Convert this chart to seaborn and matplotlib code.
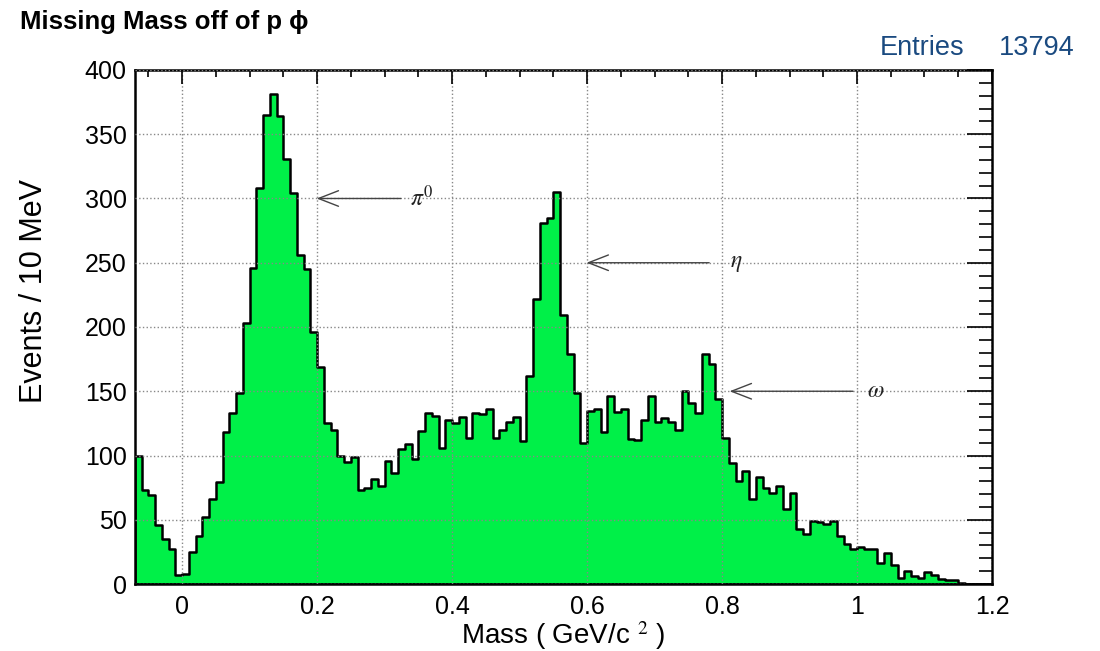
import numpy as np
import pandas as pd
import matplotlib
matplotlib.use('Agg')
import matplotlib.pyplot as plt
import seaborn as sns
from matplotlib.ticker import MultipleLocator, FuncFormatter

# 10 MeV bins from -0.07 to 1.20 GeV/c^2
bin_lo = -0.07
bin_hi = 1.20
n_bins = 127
counts = [
    100, 73, 69, 46, 35, 27, 7,                             # -0.07 .. -0.01
    8, 25, 37, 52, 66, 79, 118, 133, 149, 203,              # 0.00 .. 0.09
    246, 308, 365, 381, 364, 331, 304, 256, 245, 196,       # 0.10 .. 0.19
    169, 125, 120, 100, 95, 99, 73, 75, 82, 76,             # 0.20 .. 0.29
    96, 86, 105, 109, 97, 119, 133, 131, 106, 128,          # 0.30 .. 0.39
    125, 130, 114, 133, 132, 136, 114, 120, 126, 130,       # 0.40 .. 0.49
    111, 162, 222, 281, 285, 305, 209, 179, 149, 110,       # 0.50 .. 0.59
    135, 136, 118, 146, 134, 136, 113, 112, 128, 146,       # 0.60 .. 0.69
    126, 129, 126, 120, 150, 141, 133, 179, 171, 144,       # 0.70 .. 0.79
    114, 94, 80, 88, 66, 83, 75, 71, 76, 58,                # 0.80 .. 0.89
    71, 43, 39, 49, 48, 47, 49, 37, 31, 27,                 # 0.90 .. 0.99
    29, 27, 27, 16, 24, 15, 5, 10, 6, 5,                    # 1.00 .. 1.09
    9, 7, 4, 3, 3, 1, 0, 0, 0, 0,                           # 1.10 .. 1.19
]
entries = 13794

# resonance markers
peak_labels = [r'$\pi^0$', r'$\eta$', r'$\omega$']
peak_tip_x = [0.195, 0.595, 0.807]
peak_tail_x = [0.328, 0.785, 0.998]
peak_y = [300, 250, 150]
peak_label_x = [0.338, 0.812, 1.015]

edges = np.linspace(bin_lo, bin_hi, n_bins + 1)
df = pd.DataFrame({'mass': (edges[:-1] + edges[1:]) / 2, 'events': counts})

sns.set_style('white')
plt.rcParams['font.family'] = ['Liberation Sans', 'DejaVu Sans']
plt.rcParams['mathtext.fontset'] = 'stix'
plt.rcParams['text.color'] = 'black'
plt.rcParams['axes.labelcolor'] = 'black'
plt.rcParams['xtick.color'] = 'black'
plt.rcParams['ytick.color'] = 'black'

fig = plt.figure(figsize=(11, 6.51), dpi=100)
ax = fig.add_axes([0.1227, 0.1029, 0.7791, 0.7896])

sns.histplot(data=df, x='mass', weights='events', bins=list(edges), element='step', fill=True,
             color='#00f048', alpha=1, edgecolor='black', linewidth=1.8, ax=ax)

ax.set_xlim(bin_lo, bin_hi)
ax.set_ylim(0, 400)

ax.xaxis.set_major_locator(MultipleLocator(0.2))
ax.xaxis.set_minor_locator(MultipleLocator(0.05))
ax.yaxis.set_major_locator(MultipleLocator(50))
ax.yaxis.set_minor_locator(MultipleLocator(10))
ax.xaxis.set_major_formatter(FuncFormatter(lambda v, p: '%g' % round(v, 2)))

ax.tick_params(axis='both', which='both', direction='in', top=True, right=True,
               width=1.2, labelsize=18)
ax.tick_params(axis='x', which='major', length=10, pad=8)
ax.tick_params(axis='x', which='minor', length=5)
ax.tick_params(axis='y', which='major', length=18, pad=6)
ax.tick_params(axis='y', which='minor', length=9.5)

ax.grid(True, which='major', linestyle=':', color='#888888', linewidth=1)
ax.set_axisbelow(False)
for s in ax.spines.values():
    s.set_linewidth(1.8)
    s.set_color('black')
    s.set_visible(True)

ax.set_xlabel(r'Mass ( GeV/c $^{2}$ )', fontsize=20, labelpad=0)
ax.set_ylabel('Events / 10 MeV', fontsize=22)
ax.yaxis.set_label_coords(-0.10, 0.57)

for lab, tip, tail, y, lx in zip(peak_labels, peak_tip_x, peak_tail_x, peak_y, peak_label_x):
    ax.annotate('', xy=(tip, y), xytext=(tail, y),
                arrowprops=dict(arrowstyle='->,head_length=0.9,head_width=0.35',
                                color='#444444', lw=1, mutation_scale=16))
    ax.text(lx, y, lab, fontsize=17, va='center', ha='left', color='#222222')

fig.text(0.018, 0.955, 'Missing Mass off of p \u03d5', fontsize=18.5, fontweight='bold',
         ha='left', va='baseline')
fig.text(0.80, 0.915, 'Entries', fontsize=19.5, color='#1a4a80', ha='left', va='baseline')
fig.text(0.977, 0.915, str(entries), fontsize=19.5, color='#1a4a80', ha='right', va='baseline')

fig.savefig('out.png', dpi=100)
